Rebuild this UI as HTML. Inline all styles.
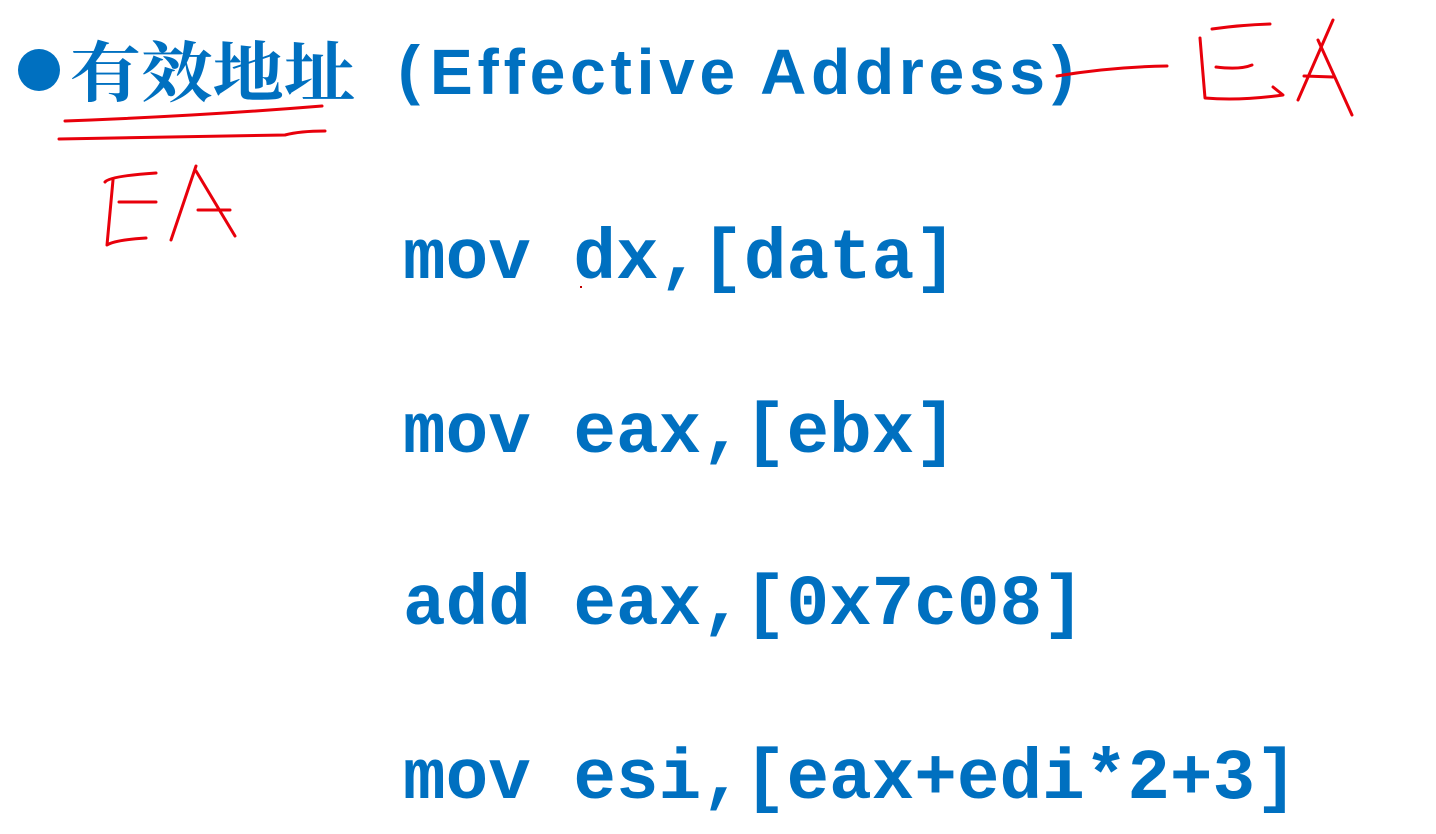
<!DOCTYPE html>
<html><head><meta charset="utf-8"><style>
html,body{margin:0;padding:0;background:#fff;}
svg{display:block}
</style></head><body>
<svg width="1436" height="834" viewBox="0 0 1436 834" xmlns="http://www.w3.org/2000/svg">
<rect width="1436" height="834" fill="#fff"/>
<circle cx="39" cy="70" r="21" fill="#0070C0"/>
<text x="70" y="96" font-family="'Noto Serif CJK SC','Noto Sans CJK SC',serif" font-weight="bold" font-size="66" fill="#0070C0" textLength="285" lengthAdjust="spacingAndGlyphs">有效地址</text>
<text x="398" y="92" font-family="'Liberation Sans',sans-serif" font-weight="bold" font-size="66" fill="#0070C0">(</text>
<text x="430" y="94" font-family="'Liberation Sans',sans-serif" font-weight="bold" font-size="64" fill="#0070C0" textLength="615" lengthAdjust="spacing">Effective Address</text>
<text x="1052" y="92" font-family="'Liberation Sans',sans-serif" font-weight="bold" font-size="66" fill="#0070C0">)</text>
<g font-family="'Liberation Mono',monospace" font-weight="bold" font-size="71" fill="#0070C0">
<text x="403" y="278">mov dx,[data]</text>
<text x="403" y="452">mov eax,[ebx]</text>
<text x="403" y="624">add eax,[0x7c08]</text>
<text x="403" y="798">mov esi,[eax+edi*2+3]</text>
</g>
<g fill="none" stroke="#e8000b" stroke-width="3" stroke-linecap="round" stroke-linejoin="round">
<path d="M65 121 Q200 116 322 106"/>
<path d="M59 139 Q200 137 285 135 Q300 131 325 131"/>
<path d="M105 182 Q110 176 156 173"/>
<path d="M113 180 L107 245 Q115 240 146 238"/>
<path d="M119 202 L156 202"/>
<path d="M171 240 L196 166"/>
<path d="M196 171 L235 236"/>
<path d="M198 210 L230 210"/>
<path d="M1057 76 Q1110 67 1167 66"/>
<path d="M1212 29 Q1240 25 1270 24"/>
<path d="M1200 38 L1205 98 Q1240 101 1283 95 L1273 87"/>
<path d="M1216 67 Q1240 70 1252 65"/>
<path d="M1298 100 L1333 20"/>
<path d="M1318 40 L1352 115"/>
<path d="M1304 76 L1333 77"/>
</g>
<rect x="580" y="286" width="2" height="2" fill="#c00000"/>
</svg>
</body></html>
